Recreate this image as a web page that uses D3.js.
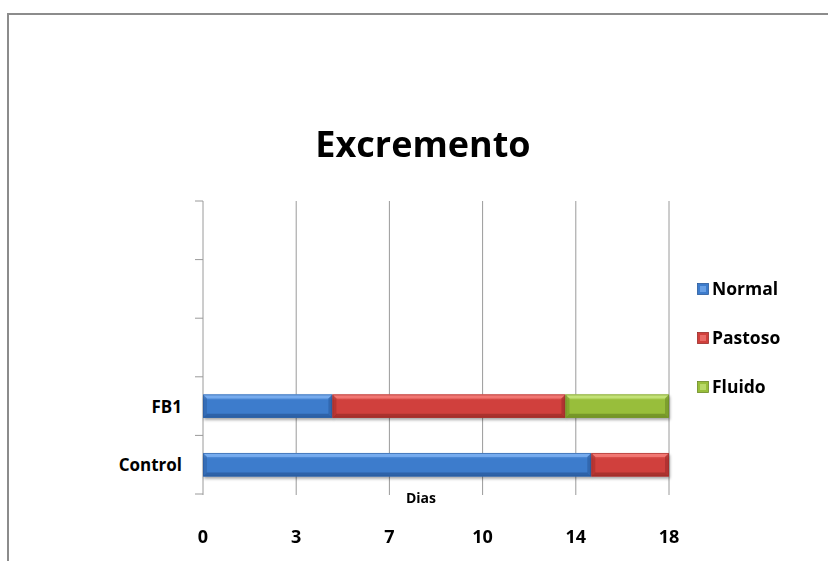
<!DOCTYPE html>
<html>
<head>
<meta charset="utf-8">
<script src="https://cdn.jsdelivr.net/npm/d3@7"></script>
<style>
  html, body { margin: 0; padding: 0; background: #fff; }
  svg text { font-family: "Open Sans", "Noto Sans", sans-serif; font-weight: bold; fill: #000; }
</style>
</head>
<body>
<svg id="chart" width="828" height="561"></svg>
<script>
// Categories (bottom to top); the upper slots are empty rows of the chart
const categories = ["Control", "FB1", "", " ", "  "];
const seriesNames = ["Normal", "Pastoso", "Fluido"];
const normalValues  = [15, 5, 0, 0, 0];
const pastosoValues = [3, 9, 0, 0, 0];
const fluidoValues  = [0, 4, 0, 0, 0];
const tickValues = [0, 3.6, 7.2, 10.8, 14.4, 18];
const tickLabels = ["0", "3", "7", "10", "14", "18"];

const palette = {
  Normal:  { base: "#3d7ccc", light: "#79aef0", dark: "#2a5a9c" },
  Pastoso: { base: "#d0403c", light: "#f37a76", dark: "#9c2b28" },
  Fluido:  { base: "#98be3a", light: "#c6e47a", dark: "#6b8a24" }
};

const svg = d3.select("#chart");

// outer frame
svg.append("path")
  .attr("d", "M8,561 V14 H828")
  .attr("fill", "none").attr("stroke", "#8c8c8c").attr("stroke-width", 2);

const plot = { left: 203, right: 669, top: 201, bottom: 494 };

const x = d3.scaleLinear().domain([0, 18]).range([plot.left, plot.right]);
const y = d3.scaleBand().domain(categories).range([plot.bottom, plot.top]).paddingInner(0.6).paddingOuter(0.3);
const yOuter = d3.scaleBand().domain(categories).range([plot.bottom, plot.top]);

// gradients
const defs = svg.append("defs");
seriesNames.forEach(name => {
  const c = palette[name];
  const g = defs.append("linearGradient").attr("id", "g-" + name)
    .attr("x1", 0).attr("y1", 0).attr("x2", 0).attr("y2", 1);
  g.append("stop").attr("offset", "0").attr("stop-color", c.light);
  g.append("stop").attr("offset", "0.25").attr("stop-color", c.base);
  g.append("stop").attr("offset", "1").attr("stop-color", c.base);
});
const shadow = defs.append("filter").attr("id", "shadow").attr("x", "-5%").attr("y", "-20%").attr("width", "110%").attr("height", "160%");
shadow.append("feGaussianBlur").attr("in", "SourceAlpha").attr("stdDeviation", 1.5).attr("result", "b");
shadow.append("feOffset").attr("dx", 1).attr("dy", 2).attr("result", "o");
shadow.append("feComponentTransfer").append("feFuncA").attr("type", "linear").attr("slope", 0.35);
const merge = shadow.append("feMerge");
merge.append("feMergeNode");
merge.append("feMergeNode").attr("in", "SourceGraphic");

// vertical gridlines
svg.append("g").selectAll("line").data(tickValues.slice(1)).join("line")
  .attr("x1", d => x(d)).attr("x2", d => x(d))
  .attr("y1", plot.top).attr("y2", plot.bottom + 1)
  .attr("stroke", "#9a9a9a").attr("stroke-width", 1);

// category axis with ticks on band boundaries
const yAxisG = svg.append("g");
yAxisG.append("line")
  .attr("x1", plot.left).attr("x2", plot.left)
  .attr("y1", plot.top).attr("y2", plot.bottom + 1)
  .attr("stroke", "#9a9a9a");
const bounds = categories.map(c => yOuter(c) + yOuter.bandwidth()).concat([plot.top]);
yAxisG.selectAll("line.tick").data(bounds).join("line").attr("class", "tick")
  .attr("x1", plot.left - 8).attr("x2", plot.left)
  .attr("y1", d => d).attr("y2", d => d)
  .attr("stroke", "#9a9a9a");
yAxisG.selectAll("text").data(categories.filter(c => c.trim() !== "")).join("text")
  .attr("x", 182).attr("y", d => yOuter(d) + yOuter.bandwidth() / 2 + 6.5)
  .attr("text-anchor", "end").attr("font-size", 17)
  .text(d => d);

// stacked bars
const rows = categories.map((c, i) => ({ cat: c, Normal: normalValues[i], Pastoso: pastosoValues[i], Fluido: fluidoValues[i] }));
const stacked = d3.stack().keys(seriesNames)(rows);
const bev = 4;
stacked.forEach(layer => {
  const name = layer.key, c = palette[name];
  const g = svg.append("g").attr("filter", "url(#shadow)");
  layer.forEach(d => {
    const v = d[1] - d[0];
    if (v <= 0) return;
    const x0 = x(d[0]), x1 = x(d[1]);
    const y0 = y(d.data.cat), h = y.bandwidth(), y1 = y0 + h;
    const seg = g.append("g");
    seg.append("rect").attr("x", x0).attr("y", y0).attr("width", x1 - x0).attr("height", h)
      .attr("fill", `url(#g-${name})`);
    // bevel faces
    seg.append("polygon")
      .attr("points", [[x0, y0], [x1, y0], [x1 - bev, y0 + bev], [x0 + bev, y0 + bev]].join(" "))
      .attr("fill", c.light).attr("opacity", 0.85);
    seg.append("polygon")
      .attr("points", [[x0, y1], [x1, y1], [x1 - bev, y1 - bev], [x0 + bev, y1 - bev]].join(" "))
      .attr("fill", c.dark).attr("opacity", 0.75);
    seg.append("polygon")
      .attr("points", [[x0, y0], [x0 + bev, y0 + bev], [x0 + bev, y1 - bev], [x0, y1]].join(" "))
      .attr("fill", c.dark).attr("opacity", 0.45);
    seg.append("polygon")
      .attr("points", [[x1, y0], [x1 - bev, y0 + bev], [x1 - bev, y1 - bev], [x1, y1]].join(" "))
      .attr("fill", c.dark).attr("opacity", 0.6);
    seg.append("rect").attr("x", x0 + 0.5).attr("y", y0 + 0.5).attr("width", x1 - x0 - 1).attr("height", h - 1)
      .attr("fill", "none").attr("stroke", c.dark).attr("stroke-width", 1).attr("opacity", 0.6);
  });
});

// value axis labels
svg.append("g").selectAll("text").data(tickValues).join("text")
  .attr("x", d => x(d)).attr("y", 543)
  .attr("text-anchor", "middle").attr("font-size", 18)
  .text((d, i) => tickLabels[i]);

svg.append("text").attr("x", 421).attr("y", 503)
  .attr("text-anchor", "middle").attr("font-size", 14).text("Dias");

// title
svg.append("text").attr("x", 423).attr("y", 157)
  .attr("text-anchor", "middle").attr("font-size", 36).text("Excremento");

// legend
const legend = svg.append("g");
seriesNames.forEach((name, i) => {
  const c = palette[name];
  const ly = 289 + i * 49;
  const gi = legend.append("g");
  gi.append("rect").attr("x", 697.5).attr("y", ly - 5.5).attr("width", 11).attr("height", 11)
    .attr("fill", c.base).attr("stroke", c.dark).attr("stroke-width", 0.8);
  gi.append("rect").attr("x", 700).attr("y", ly - 3).attr("width", 6).attr("height", 6)
    .attr("fill", c.light).attr("opacity", 0.7);
  gi.append("text").attr("x", 712).attr("y", ly + 6).attr("font-size", 17.5).text(name);
});
</script>
</body>
</html>
